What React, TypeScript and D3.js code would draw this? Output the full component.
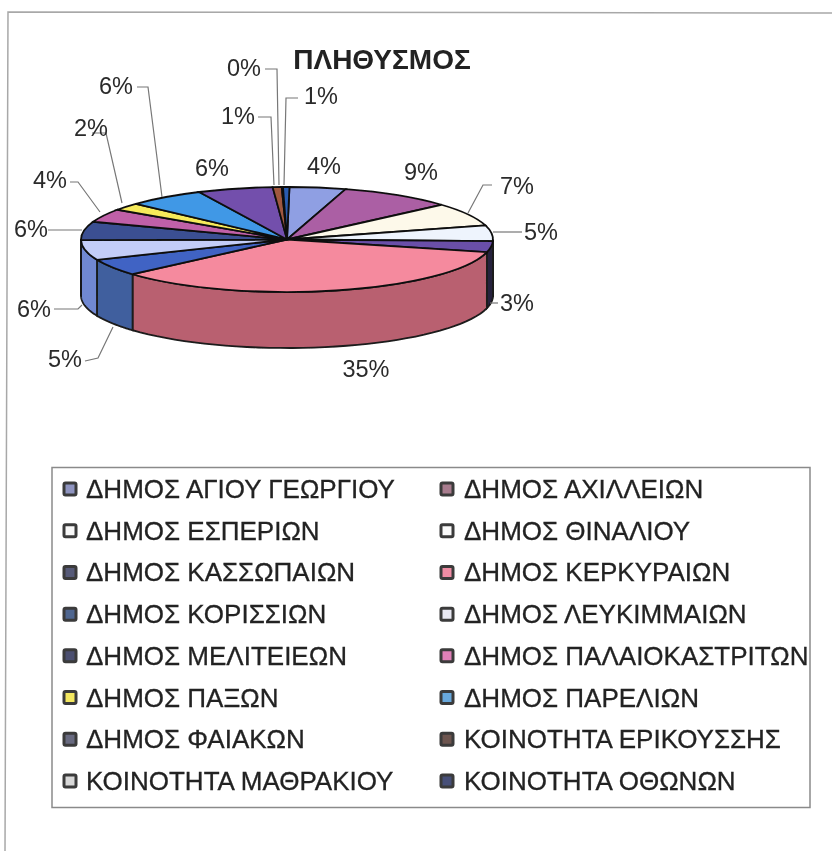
import React from "react";
import * as d3 from "d3";

const categories = ["ΔΗΜΟΣ ΑΓΙΟΥ ΓΕΩΡΓΙΟΥ","ΔΗΜΟΣ ΑΧΙΛΛΕΙΩΝ","ΔΗΜΟΣ ΕΣΠΕΡΙΩΝ","ΔΗΜΟΣ ΘΙΝΑΛΙΟΥ","ΔΗΜΟΣ ΚΑΣΣΩΠΑΙΩΝ","ΔΗΜΟΣ ΚΕΡΚΥΡΑΙΩΝ","ΔΗΜΟΣ ΚΟΡΙΣΣΙΩΝ","ΔΗΜΟΣ ΛΕΥΚΙΜΜΑΙΩΝ","ΔΗΜΟΣ ΜΕΛΙΤΕΙΕΩΝ","ΔΗΜΟΣ ΠΑΛΑΙΟΚΑΣΤΡΙΤΩΝ","ΔΗΜΟΣ ΠΑΞΩΝ","ΔΗΜΟΣ ΠΑΡΕΛΙΩΝ","ΔΗΜΟΣ ΦΑΙΑΚΩΝ","ΚΟΙΝΟΤΗΤΑ ΕΡΙΚΟΥΣΣΗΣ","ΚΟΙΝΟΤΗΤΑ ΜΑΘΡΑΚΙΟΥ","ΚΟΙΝΟΤΗΤΑ ΟΘΩΝΩΝ"];
const values = [4.4,8.9,7.2,4.8,3.4,34.6,5.2,6.1,5.7,4.1,2.3,6.1,5.9,0.7,0.1,0.5];
const faceColors = ["#8f9fe3","#ab5fa4","#fdf9ea","#eef4fd","#6a4fa8","#f58a9e","#3f63c4","#c3cdf8","#3a4f92","#c060a8","#f6ea5a","#3f98e6","#7350ac","#a0583f","#d8d8e8","#2a5cb0"];
const wallColors = ["#7080c8","#8f4a88","#ddd","#d8d8d8","#26203e","#b9606f","#3f5f9e","#6f88d2","#2e3f78","#904a80","#c0b040","#2f78b8","#5a3f88","#804030","#aaa","#204890"];
const swatchColors = ["#8f94c0","#a87c8e","#f8f8f8","#fafafa","#565a78","#f08ca4","#506690","#e8e8f2","#4c5070","#e080b8","#f4e860","#68a8dc","#686a80","#6d5550","#d8d8d8","#465078"];
const labelXY: [number, number][] = [
  [324,174],[421,180],[517,194],[541,240],[517,311],[366,377],[65,367],[34,317],
  [31,237],[50,188],[91,136],[116,94],[212,176],[238,124],[244,76],[321,104]
];
const leaders: ([number, number][] | null)[] = [
  null,null,[[492,185],[483,185],[468,213]],[[522,232],[493,232]],[[498,303],[490,303]],null,
  [[85,361],[98,358],[113,327]],[[54,309],[78,309],[82,305]],[[48,230],[82,230]],
  [[70,182],[78,182],[100,212]],[[92,133],[106,133],[122,203]],[[137,87],[148,87],[162,197]],
  null,[[258,117],[271,117],[274,185]],[[265,69],[277,69],[279,185]],[[298,98],[286,98],[284,185]]
];

const cx = 287, cy = 239.5, rx = 206, ry = 52.5, depth = 56;
const pieGen = d3.pie<number>().sort(null).startAngle(0.012).endAngle(Math.PI * 2 + 0.012);
const arcs = pieGen(values);
const pct = d3.format(".0%");
const total = d3.sum(values);
const px = (a: number) => cx + rx * Math.sin(a);
const py = (a: number) => cy - ry * Math.cos(a);
const arcGen = d3.arc<any>().innerRadius(0).outerRadius(rx);
const FONT = "'Liberation Sans', Arial, sans-serif";
const lineGen = d3.line();
const wall = (a0: number, a1: number) => {
  const s = Math.max(a0, Math.PI / 2), e = Math.min(a1, 1.5 * Math.PI);
  if (e <= s) return null;
  const angs = d3.range(0, 41).map((i) => s + ((e - s) * i) / 40);
  const top = angs.map((a) => [px(a), py(a)] as [number, number]);
  const bot = angs.slice().reverse().map((a) => [px(a), py(a) + depth] as [number, number]);
  return lineGen([...top, ...bot]) + "Z";
};
const rows = d3.scalePoint<number>().domain(d3.range(8)).range([489, 781]);

export default function App() {
  return (
    <svg width={832} height={851} style={{ position: "absolute", left: 0, top: 0, background: "#fff" }}>
      <defs><filter id="scan" x="-5%" y="-5%" width="110%" height="110%"><feGaussianBlur stdDeviation="0.5" /></filter></defs>
      <g filter="url(#scan)">
        <path d="M5,851L8,12L832,13" fill="none" stroke="#a8a8a8" strokeWidth={1.5} />
        <text x={382} y={69} textAnchor="middle" fontFamily={FONT} fontWeight={700} fontSize={28} fill="#222">ΠΛΗΘΥΣΜΟΣ</text>
        {arcs.map((d, i) => { const p = wall(d.startAngle, d.endAngle); return p ? <path key={i} d={p} fill={wallColors[i]} stroke="#1a1a1a" strokeWidth={1.8} /> : null; })}
        <g transform={`translate(${cx},${cy}) scale(1,${ry / rx})`}>
          {arcs.map((d, i) => <path key={i} d={arcGen(d) as string} fill={faceColors[i]} stroke="#111" strokeWidth={1.8} vectorEffect="non-scaling-stroke" />)}
        </g>
        {labelXY.map((l, i) => (
          <g key={i}>
            {leaders[i] ? <path d={lineGen(leaders[i] as [number, number][]) as string} fill="none" stroke="#777" strokeWidth={1.2} /> : null}
            <text x={l[0]} y={l[1]} textAnchor="middle" fontFamily={FONT} fontSize={23.5} fill="#2a2a2a">{pct(values[i] / total)}</text>
          </g>
        ))}
        <rect x={52} y={467.5} width={758} height={340} fill="#fff" stroke="#8a8a8a" strokeWidth={1.5} />
        {categories.map((c, i) => {
          const col = i % 2, y = rows(Math.floor(i / 2)) as number;
          const sx = col ? 441 : 64, tx = col ? 464 : 86;
          return (
            <g key={c}>
              <rect x={sx} y={y - 6} width={12} height={12} rx={1.5} fill={swatchColors[i]} stroke="#3a3a3a" strokeWidth={3} />
              <text x={tx} y={y + 9} fontFamily={FONT} fontSize={26} fill="#222" stroke="#222" strokeWidth={0.3}>{c}</text>
            </g>
          );
        })}
      </g>
    </svg>
  );
}
